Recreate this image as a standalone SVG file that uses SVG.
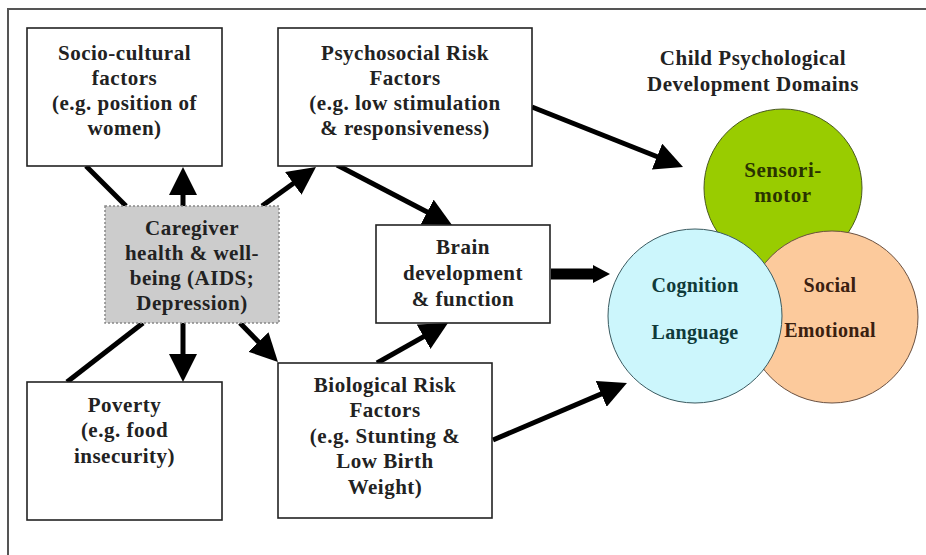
<svg xmlns="http://www.w3.org/2000/svg" width="926" height="555" viewBox="0 0 926 555">
<defs>
<style>
.box{fill:#fff;stroke:#222;stroke-width:1.6}
.t{font-family:"Liberation Serif","Times New Roman",serif;font-weight:bold;font-size:21px;letter-spacing:0.5px;fill:#222;text-anchor:middle}
.c{font-size:20px;letter-spacing:0.3px}
.ln{stroke:#000;stroke-width:5;fill:none}
.ar{marker-end:url(#head)}
</style>
<marker id="head" markerUnits="userSpaceOnUse" markerWidth="28" markerHeight="28" refX="20" refY="14" orient="auto" viewBox="0 0 28 28">
<path d="M0,0 L28,14 L0,28 z" fill="#000"/>
</marker>
<marker id="headS" markerUnits="userSpaceOnUse" markerWidth="17" markerHeight="18" refX="2" refY="9" orient="auto" viewBox="0 0 17 18">
<path d="M0,0 L17,9 L0,18 z" fill="#000"/>
</marker>
</defs>
<rect width="926" height="555" fill="#fff"/>
<g id="frame">
<path d="M8,555 L8,9 L926,9" fill="none" stroke="#555" stroke-width="2"/>
</g>
<g id="connectors">
<path class="ln" d="M86,166 L126,206"/>
<path class="ln" d="M143,323 L67,382"/>
<path class="ln ar" d="M183,206 L183,175"/>
<path class="ln ar" d="M262,206 L309.5,171.7"/>
<path class="ln ar" d="M337,165 L444.9,221.3"/>
<path class="ln ar" d="M532,107 L675.6,164"/>
<path class="ln ar" d="M493,440 L619.6,386.1"/>
<path class="ln ar" d="M377,363 L441,326.9"/>
<path class="ln ar" d="M240,323 L272.4,356.3"/>
<path class="ln ar" d="M183,323 L183,374"/>
<path d="M551,274 L595,274" stroke="#000" stroke-width="11" fill="none" marker-end="url(#headS)"/>
</g>
<g id="socio">
<rect class="box" x="27" y="28" width="195" height="138"/>
<text class="t" x="124.5" y="60">Socio-cultural</text>
<text class="t" x="124.5" y="85">factors</text>
<text class="t" x="124.5" y="110">(e.g. position of</text>
<text class="t" x="124.5" y="135">women)</text>
</g>
<g id="psychosocial">
<rect class="box" x="278" y="28" width="254" height="138"/>
<text class="t" x="405" y="60">Psychosocial Risk</text>
<text class="t" x="405" y="85">Factors</text>
<text class="t" x="405" y="110">(e.g. low stimulation</text>
<text class="t" x="405" y="135">&amp; responsiveness)</text>
</g>
<g id="caregiver">
<rect x="105" y="206" width="174" height="117" fill="#cccccc" stroke="#888" stroke-width="1.5" stroke-dasharray="2,2"/>
<text class="t" x="192" y="235">Caregiver</text>
<text class="t" x="192" y="260">health &amp; well-</text>
<text class="t" x="192" y="285">being (AIDS;</text>
<text class="t" x="192" y="310">Depression)</text>
</g>
<g id="brain">
<rect class="box" x="376" y="225" width="174" height="98"/>
<text class="t" x="463" y="254">Brain</text>
<text class="t" x="463" y="280">development</text>
<text class="t" x="463" y="306">&amp; function</text>
</g>
<g id="poverty">
<rect class="box" x="27" y="382" width="195" height="138"/>
<text class="t" x="124.5" y="412">Poverty</text>
<text class="t" x="124.5" y="437">(e.g. food</text>
<text class="t" x="124.5" y="463">insecurity)</text>
</g>
<g id="biological">
<rect class="box" x="278" y="363" width="214" height="155"/>
<text class="t" x="385" y="392">Biological Risk</text>
<text class="t" x="385" y="417">Factors</text>
<text class="t" x="385" y="443">(e.g. Stunting &amp;</text>
<text class="t" x="385" y="468">Low Birth</text>
<text class="t" x="385" y="494">Weight)</text>
</g>
<g id="title">
<text class="t" x="753" y="65">Child Psychological</text>
<text class="t" x="753" y="91">Development Domains</text>
</g>
<g id="sensorimotor">
<circle cx="783" cy="188" r="79" fill="#99cc00" stroke="#4a5a20" stroke-width="1"/>
<text class="t" x="783" y="177" style="fill:#2a3300">Sensori-</text>
<text class="t" x="783" y="202" style="fill:#2a3300">motor</text>
</g>
<g id="socialemotional">
<circle cx="832" cy="317" r="86" fill="#fcca9c" stroke="#6a5040" stroke-width="1"/>
<text class="t c" x="830" y="292" style="fill:#3a2010">Social</text>
<text class="t c" x="830" y="337" style="fill:#3a2010">Emotional</text>
</g>
<g id="cognition">
<circle cx="695" cy="316" r="87" fill="#ccf6fc" stroke="#3a5a60" stroke-width="1"/>
<text class="t c" x="695" y="292" style="fill:#0f3a3a">Cognition</text>
<text class="t c" x="695" y="339" style="fill:#0f3a3a">Language</text>
</g>
</svg>
